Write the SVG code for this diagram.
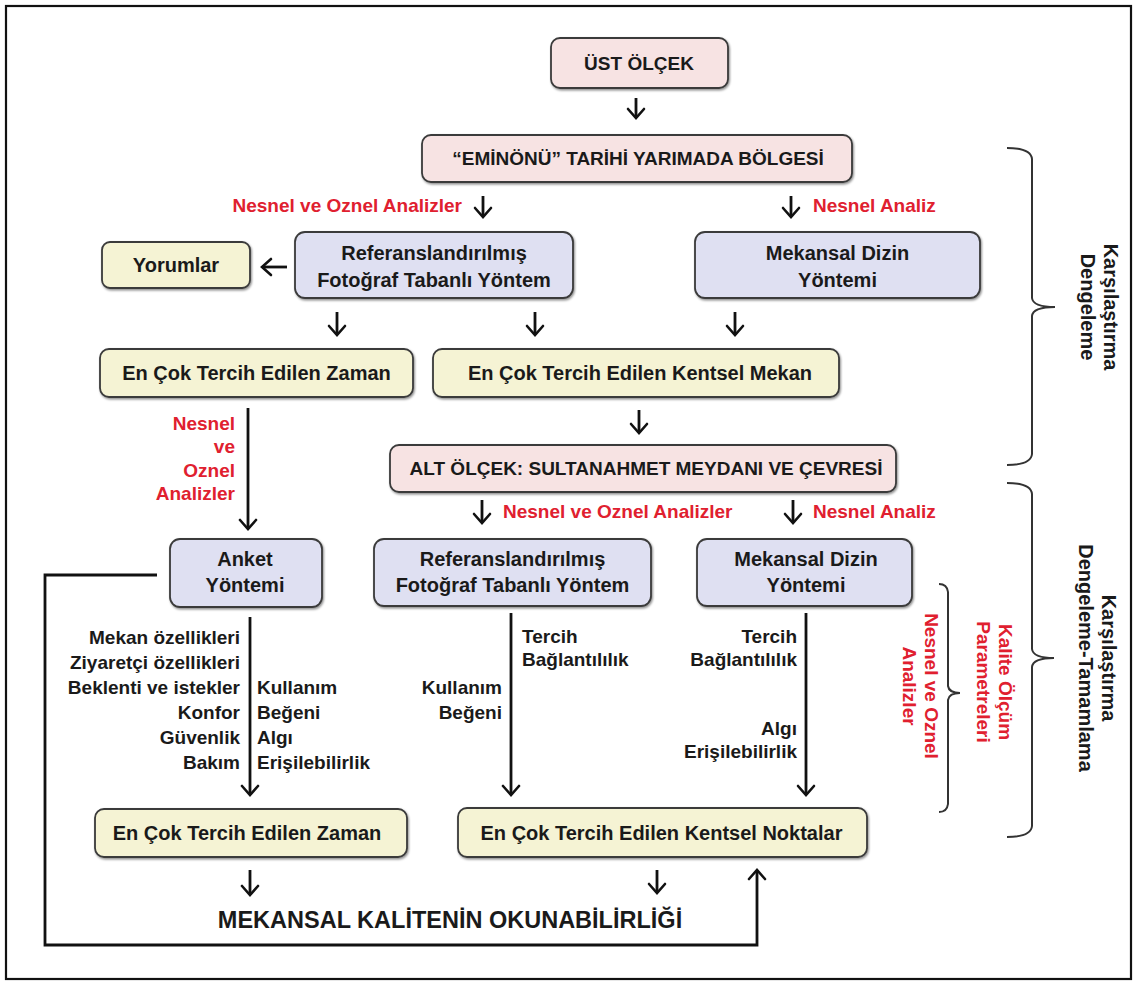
<svg xmlns="http://www.w3.org/2000/svg" width="1137" height="985" viewBox="0 0 1137 985">
<style>
.box{stroke:#3a3a3a;stroke-width:1.8;filter:url(#sh)}
.pink{fill:#f7e3e3}
.blue{fill:#dfe0f2}
.yel{fill:#f5f3d4}
.t{font-family:"Liberation Sans",Arial,sans-serif;font-weight:bold;fill:#1a1a1a;text-anchor:middle}
.s19{font-size:19px}
.s20{font-size:20px}
.lab{font-family:"Liberation Sans",Arial,sans-serif;font-weight:bold;font-size:19px;fill:#1a1a1a}
.red{font-family:"Liberation Sans",Arial,sans-serif;font-weight:bold;font-size:19px;fill:#e0202f}
.ar{stroke:#111;stroke-width:2.8;fill:none;marker-end:url(#ah)}
.br{stroke:#333;stroke-width:2;fill:none}
.end{text-anchor:end}
.mid{text-anchor:middle}
.big{font-size:20px}
</style>
<defs>
<filter id="sh" x="-5%" y="-10%" width="110%" height="130%">
<feDropShadow dx="1" dy="1.5" stdDeviation="0.8" flood-color="#000" flood-opacity="0.45"/>
</filter>
<marker id="ah" viewBox="-12 -10 14 20" refX="0" refY="0" markerWidth="14" markerHeight="20" markerUnits="userSpaceOnUse" orient="auto">
<path d="M-9,-8 L0,0 L-9,8" fill="none" stroke="#111" stroke-width="2.6" stroke-linecap="round"/>
</marker>
</defs>
<rect x="0" y="0" width="1137" height="985" fill="#ffffff"/>
<rect x="6" y="6" width="1125" height="973" fill="none" stroke="#111" stroke-width="2.2"/>

<g id="ust"><rect class="box pink" x="551" y="38" width="177" height="50" rx="9"/><text class="t s19" x="639" y="70">ÜST ÖLÇEK</text></g>
<g id="eminonu"><rect class="box pink" x="422" y="135" width="430" height="47" rx="9"/><text class="t s19" x="638" y="165">“EMİNÖNÜ” TARİHİ YARIMADA BÖLGESİ</text></g>
<g id="ref1"><rect class="box blue" x="295" y="232" width="278" height="66" rx="10"/><text class="t s20" x="434" y="260">Referanslandırılmış</text><text class="t s20" x="434" y="287">Fotoğraf Tabanlı Yöntem</text></g>
<g id="yorumlar"><rect class="box yel" x="102" y="242" width="148" height="46" rx="8"/><text class="t s20" x="176" y="272">Yorumlar</text></g>
<g id="mek1"><rect class="box blue" x="695" y="232" width="285" height="66" rx="10"/><text class="t s20" x="837.5" y="260">Mekansal Dizin</text><text class="t s20" x="837.5" y="287">Yöntemi</text></g>
<g id="zaman1"><rect class="box yel" x="100" y="349" width="313" height="48" rx="9"/><text class="t s20" x="256.5" y="380">En Çok Tercih Edilen Zaman</text></g>
<g id="kentsel1"><rect class="box yel" x="433" y="349" width="406" height="48" rx="9"/><text class="t s20" x="640" y="380">En Çok Tercih Edilen Kentsel Mekan</text></g>
<g id="alt"><rect class="box pink" x="390" y="445" width="506" height="47" rx="9"/><text class="t s19" x="646" y="475">ALT ÖLÇEK: SULTANAHMET MEYDANI VE ÇEVRESİ</text></g>
<g id="anket"><rect class="box blue" x="170" y="539" width="152" height="68" rx="10"/><text class="t s20" x="245" y="566">Anket</text><text class="t s20" x="245" y="592">Yöntemi</text></g>
<g id="ref2"><rect class="box blue" x="374" y="539" width="277" height="67" rx="10"/><text class="t s20" x="512.5" y="566">Referanslandırılmış</text><text class="t s20" x="512.5" y="592">Fotoğraf Tabanlı Yöntem</text></g>
<g id="mek2"><rect class="box blue" x="697" y="539" width="215" height="67" rx="10"/><text class="t s20" x="806" y="566">Mekansal Dizin</text><text class="t s20" x="806" y="592">Yöntemi</text></g>
<g id="zaman2"><rect class="box yel" x="95" y="809" width="312" height="48" rx="9"/><text class="t s20" x="247" y="840">En Çok Tercih Edilen Zaman</text></g>
<g id="kentsel2"><rect class="box yel" x="458" y="808" width="409" height="49" rx="9"/><text class="t s20" x="661.5" y="840">En Çok Tercih Edilen Kentsel Noktalar</text></g>
<g id="sonuc"><text class="t" style="font-size:23.5px" x="450" y="928">MEKANSAL KALİTENİN OKUNABİLİRLİĞİ</text></g>

<g id="connectors">
<line class="ar" x1="636" y1="98" x2="636" y2="118"/>
<line class="ar" x1="483" y1="196" x2="483" y2="217"/>
<line class="ar" x1="791" y1="196" x2="791" y2="217"/>
<line class="ar" x1="287" y1="267" x2="262" y2="267"/>
<line class="ar" x1="337" y1="312" x2="337" y2="335"/>
<line class="ar" x1="535" y1="312" x2="535" y2="335"/>
<line class="ar" x1="735" y1="312" x2="735" y2="335"/>
<line class="ar" x1="639" y1="410" x2="639" y2="433"/>
<line class="ar" x1="248" y1="408" x2="248" y2="529"/>
<line class="ar" x1="482" y1="500" x2="482" y2="523"/>
<line class="ar" x1="793" y1="500" x2="793" y2="523"/>
<line class="ar" x1="250" y1="617" x2="250" y2="795"/>
<line class="ar" x1="511" y1="613" x2="511" y2="795"/>
<line class="ar" x1="806" y1="613" x2="806" y2="795"/>
<line class="ar" x1="250" y1="870" x2="250" y2="895"/>
<line class="ar" x1="657" y1="870" x2="657" y2="893"/>
<path class="ar" d="M157,575 H45 V945 H757 V870"/>
</g>

<g id="labels">
<text class="red end" x="462" y="212">Nesnel ve Oznel Analizler</text>
<text class="red" x="813" y="212">Nesnel Analiz</text>
<text class="red end" x="235" y="430">Nesnel</text>
<text class="red end" x="235" y="453">ve</text>
<text class="red end" x="235" y="477">Oznel</text>
<text class="red end" x="235" y="500">Analizler</text>
<text class="red" x="503" y="518">Nesnel ve Oznel Analizler</text>
<text class="red" x="813" y="518">Nesnel Analiz</text>
<text class="lab end" x="240" y="644">Mekan özellikleri</text>
<text class="lab end" x="240" y="669">Ziyaretçi özellikleri</text>
<text class="lab end" x="240" y="694">Beklenti ve istekler</text>
<text class="lab end" x="240" y="719">Konfor</text>
<text class="lab end" x="240" y="744">Güvenlik</text>
<text class="lab end" x="240" y="769">Bakım</text>
<text class="lab" x="257" y="694">Kullanım</text>
<text class="lab" x="257" y="719">Beğeni</text>
<text class="lab" x="257" y="744">Algı</text>
<text class="lab" x="257" y="769">Erişilebilirlik</text>
<text class="lab" x="522" y="643">Tercih</text>
<text class="lab" x="522" y="666">Bağlantılılık</text>
<text class="lab end" x="502" y="694">Kullanım</text>
<text class="lab end" x="502" y="719">Beğeni</text>
<text class="lab end" x="797" y="643">Tercih</text>
<text class="lab end" x="797" y="666">Bağlantılılık</text>
<text class="lab end" x="797" y="735">Algı</text>
<text class="lab end" x="797" y="758">Erişilebilirlik</text>
</g>

<g id="brace-top">
<path class="br" d="M1007,148 Q1031,148 1032,159 L1032,298 Q1033,307 1055,307 Q1033,307 1032,316 L1032,454 Q1031,465 1007,465"/>
<text class="lab mid big" transform="translate(1104,307) rotate(90)">Karşılaştırma</text>
<text class="lab mid big" transform="translate(1081,307) rotate(90)">Dengeleme</text>
</g>
<g id="brace-bottom">
<path class="br" d="M1007,483 Q1031,483 1032,494 L1032,649 Q1033,658 1054,658 Q1033,658 1032,667 L1032,826 Q1031,837 1007,837"/>
<text class="lab mid big" transform="translate(1102,658) rotate(90)">Karşılaştırma</text>
<text class="lab mid big" transform="translate(1079,658) rotate(90)">Dengeleme-Tamamlama</text>
</g>
<g id="brace-inner">
<path class="br" d="M939,584 Q947,584 948,592 L948,686 Q949,693 960,693 Q949,693 948,700 L948,804 Q947,812 939,812"/>
<text class="red mid" transform="translate(999,682) rotate(90)">Kalite Ölçüm</text>
<text class="red mid" transform="translate(977,682) rotate(90)">Parametreleri</text>
<text class="red mid" transform="translate(925,686) rotate(90)">Nesnel ve Oznel</text>
<text class="red mid" transform="translate(903,686) rotate(90)">Analizler</text>
</g>
</svg>
